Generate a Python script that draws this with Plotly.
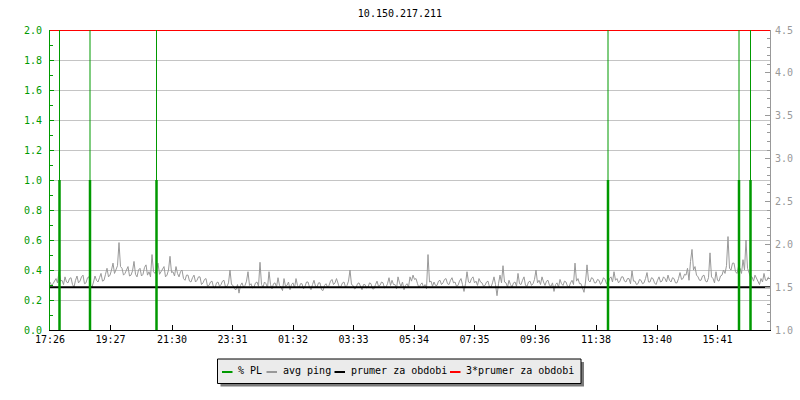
import plotly.graph_objects as go

# ---------------- data ----------------
title_text = "10.150.217.211"
start_label = "17:26"
tick_labels = ["17:26", "19:27", "21:30", "23:31", "01:32", "03:33",
               "05:34", "07:35", "09:36", "11:38", "13:40", "15:41"]
period_min = 1440
sample_step_min = 3

# avg ping [ms], one sample every 3 minutes starting 17:26
ping_ms = [
    # 17:26 - 22:14
    1.56, 1.52, 1.54, 1.58, 1.60, 1.55, 1.68, 1.57, 1.58, 1.53, 1.62, 1.56,
    1.55, 1.60, 1.61, 1.53, 1.50, 1.58, 1.63, 1.55, 1.57, 1.62, 1.64, 1.54,
    1.55, 1.61, 1.62, 1.52, 1.50, 1.56, 1.63, 1.58, 1.56, 1.61, 1.66, 1.57,
    1.58, 1.65, 1.72, 1.62, 1.64, 1.70, 1.78, 1.66, 1.70, 1.75, 2.02, 1.74,
    1.72, 1.64, 1.66, 1.71, 1.74, 1.63, 1.64, 1.69, 1.80, 1.65, 1.62, 1.70,
    1.72, 1.63, 1.65, 1.73, 1.76, 1.64, 1.68, 1.62, 1.88, 1.68, 1.66, 1.71,
    1.78, 1.65, 1.68, 1.72, 1.74, 1.62, 1.64, 1.70, 1.86, 1.67, 1.68, 1.63,
    1.74, 1.66, 1.62, 1.68, 1.70, 1.60, 1.58, 1.64, 1.64, 1.57, 1.56, 1.61,
    # 22:14 - 03:02
    1.64, 1.56, 1.58, 1.62, 1.62, 1.53, 1.55, 1.59, 1.60, 1.51, 1.52, 1.56,
    1.57, 1.50, 1.49, 1.55, 1.56, 1.51, 1.53, 1.57, 1.58, 1.50, 1.51, 1.55,
    1.70, 1.53, 1.52, 1.48, 1.47, 1.53, 1.43, 1.52, 1.55, 1.50, 1.52, 1.57,
    1.68, 1.52, 1.54, 1.49, 1.50, 1.55, 1.56, 1.51, 1.79, 1.53, 1.50, 1.56,
    1.54, 1.49, 1.68, 1.53, 1.48, 1.54, 1.55, 1.50, 1.61, 1.52, 1.50, 1.46,
    1.60, 1.51, 1.52, 1.56, 1.47, 1.53, 1.55, 1.49, 1.60, 1.52, 1.49, 1.54,
    1.54, 1.48, 1.51, 1.56, 1.56, 1.50, 1.47, 1.53, 1.58, 1.51, 1.50, 1.55,
    1.55, 1.47, 1.46, 1.52, 1.54, 1.50, 1.52, 1.57, 1.59, 1.53, 1.55, 1.60,
    # 03:02 - 07:50
    1.53, 1.49, 1.51, 1.55, 1.56, 1.50, 1.52, 1.57, 1.70, 1.53, 1.52, 1.48,
    1.49, 1.54, 1.55, 1.50, 1.47, 1.53, 1.53, 1.49, 1.50, 1.55, 1.54, 1.48,
    1.48, 1.53, 1.57, 1.51, 1.52, 1.56, 1.55, 1.49, 1.50, 1.54, 1.61, 1.52,
    1.58, 1.53, 1.53, 1.48, 1.62, 1.55, 1.51, 1.56, 1.47, 1.52, 1.54, 1.50,
    1.62, 1.57, 1.64, 1.59, 1.60, 1.54, 1.49, 1.53, 1.55, 1.50, 1.53, 1.48,
    1.88, 1.56, 1.57, 1.51, 1.56, 1.52, 1.52, 1.57, 1.58, 1.53, 1.55, 1.59,
    1.60, 1.54, 1.53, 1.58, 1.61, 1.55, 1.56, 1.51, 1.52, 1.57, 1.60, 1.53,
    1.45, 1.54, 1.68, 1.56, 1.55, 1.60, 1.62, 1.55, 1.57, 1.52, 1.60, 1.56,
    # 07:50 - 12:38
    1.55, 1.51, 1.52, 1.56, 1.57, 1.50, 1.50, 1.55, 1.62, 1.53, 1.40, 1.54,
    1.64, 1.55, 1.75, 1.56, 1.55, 1.50, 1.58, 1.53, 1.50, 1.55, 1.56, 1.51,
    1.66, 1.54, 1.53, 1.58, 1.62, 1.52, 1.51, 1.56, 1.57, 1.52, 1.54, 1.59,
    1.70, 1.55, 1.58, 1.53, 1.62, 1.56, 1.52, 1.57, 1.58, 1.52, 1.51, 1.55,
    1.45, 1.53, 1.55, 1.50, 1.59, 1.54, 1.52, 1.57, 1.56, 1.51, 1.50, 1.55,
    1.58, 1.53, 1.78, 1.57, 1.60, 1.54, 1.54, 1.49, 1.44, 1.56, 1.76, 1.58,
    1.56, 1.61, 1.60, 1.55, 1.55, 1.59, 1.58, 1.53, 1.56, 1.61, 1.59, 1.54,
    1.54, 1.60, 1.62, 1.56, 1.68, 1.58, 1.60, 1.55, 1.57, 1.62, 1.62, 1.57,
    # 12:38 - 17:26
    1.56, 1.60, 1.60, 1.54, 1.69, 1.57, 1.57, 1.53, 1.54, 1.59, 1.58, 1.54,
    1.55, 1.60, 1.67, 1.56, 1.56, 1.61, 1.60, 1.55, 1.53, 1.58, 1.62, 1.56,
    1.57, 1.62, 1.60, 1.56, 1.64, 1.58, 1.56, 1.61, 1.60, 1.55, 1.55, 1.60,
    1.67, 1.59, 1.60, 1.65, 1.64, 1.72, 1.58, 1.80, 1.94, 1.70, 1.74, 1.64,
    1.62, 1.58, 1.58, 1.63, 1.64, 1.57, 1.56, 1.61, 1.90, 1.62, 1.60, 1.55,
    1.68, 1.58, 1.57, 1.63, 1.64, 1.70, 1.66, 1.75, 2.09, 1.72, 1.70, 1.78,
    1.78, 1.68, 1.66, 1.74, 1.72, 1.66, 1.82, 1.70, 2.05, 1.72, 1.68, 1.62,
    1.62, 1.57, 1.64, 1.60, 1.57, 1.53, 1.60, 1.56, 1.66, 1.58, 1.58, 1.62,
]

# packet loss events (minutes after 17:26)
pl_times_min = [19, 80, 213, 1116, 1378, 1401]
pl_pct = [1.0, 1.0, 1.0, 1.0, 1.0, 1.0]
pl_event_top = [2.0, 2.0, 2.0, 2.0, 2.0, 2.0]

avg_ms = 1.5          # prumer za obdobi
triple_avg_ms = 4.5   # 3*prumer za obdobi

legend_labels = ["% PL", "avg ping", "prumer za obdobi", "3*prumer za obdobi"]

# ---------------- styling ----------------
GREEN = "#009900"
GREY = "#999999"
GRID = "#c4c4c4"
FONT = "DejaVu Sans Mono"


def to_min(label):
    h, m = map(int, label.split(":"))
    sh, sm = map(int, start_label.split(":"))
    return (h * 60 + m - (sh * 60 + sm)) % period_min


tick_vals = [to_min(s) for s in tick_labels]
ping_t = [i * sample_step_min for i in range(len(ping_ms))]

# vertical impulse helpers
thin_x, thin_y, thick_x, thick_y = [], [], [], []
for t, top, v in zip(pl_times_min, pl_event_top, pl_pct):
    thin_x += [t, t, None]
    thin_y += [0, top, None]
    thick_x += [t, t, None]
    thick_y += [0, v, None]

fig = go.Figure()
fig.add_trace(go.Scatter(x=ping_t, y=ping_ms, mode="lines", name=legend_labels[1],
                         line=dict(color=GREY, width=1), yaxis="y"))
fig.add_trace(go.Scatter(x=[0, period_min], y=[avg_ms, avg_ms], mode="lines",
                         name=legend_labels[2], line=dict(color="black", width=2), yaxis="y"))
fig.add_trace(go.Scatter(x=[0, period_min], y=[triple_avg_ms, triple_avg_ms], mode="lines",
                         name=legend_labels[3], line=dict(color="#ff0000", width=2), yaxis="y"))
fig.add_trace(go.Scatter(x=thin_x, y=thin_y, mode="lines", name=legend_labels[0],
                         line=dict(color=GREEN, width=1), yaxis="y2"))
fig.add_trace(go.Scatter(x=thick_x, y=thick_y, mode="lines", name=legend_labels[0],
                         line=dict(color=GREEN, width=2.5), yaxis="y2"))

L, R, T, B = 50, 30, 30, 70
W, H = 800, 400
PW, PH = W - L - R, H - T - B


def px(xp):
    return (xp - L) / PW


def py(yp):
    return (H - B - yp) / PH


shapes = []
annotations = []
# manual legend box (shadow + box)
bx0, bx1, by0, by1 = 217.5, 581, 359, 383.5
shapes.append(dict(type="rect", xref="paper", yref="paper",
                   x0=px(bx0 + 3), x1=px(bx1 + 3), y0=py(by1 + 3), y1=py(by0 + 3),
                   fillcolor="#7a7a7a", line=dict(width=0)))
shapes.append(dict(type="rect", xref="paper", yref="paper",
                   x0=px(bx0), x1=px(bx1), y0=py(by1), y1=py(by0),
                   fillcolor="#ebebeb", line=dict(color="black", width=1)))
leg_colors = [GREEN, GREY, "black", "#ff0000"]
leg_line_x = [222, 266.5, 334.5, 450]
ly = 372
for lx, col, lab in zip(leg_line_x, leg_colors, legend_labels):
    shapes.append(dict(type="line", xref="paper", yref="paper",
                       x0=px(lx), x1=px(lx + 10.5), y0=py(ly), y1=py(ly),
                       line=dict(color=col, width=2)))
    annotations.append(dict(xref="paper", yref="paper", x=px(lx + 14), y=py(370.5),
                            text=lab, showarrow=False, xanchor="left", yanchor="middle",
                            font=dict(family=FONT, size=10, color="black")))

fig.update_layout(
    width=W, height=H, autosize=False,
    margin=dict(l=L, r=R, t=T, b=B, autoexpand=False),
    paper_bgcolor="white", plot_bgcolor="white",
    showlegend=False,
    title=dict(text=title_text, x=0.5, xanchor="center", y=1 - 13 / H, yanchor="middle",
               yref="container", font=dict(family=FONT, size=10, color="black")),
    xaxis=dict(range=[0, period_min], tickvals=tick_vals, ticktext=tick_labels,
               automargin=False,
               showgrid=False, zeroline=False, showline=True, linecolor="black", linewidth=1,
               ticks="inside", ticklen=5, tickcolor="black",
               tickfont=dict(family=FONT, size=10, color="black")),
    yaxis=dict(range=[1.0, 4.5], side="right", dtick=0.5, tick0=1.0, tickformat=".1f",
               automargin=False,
               showgrid=False, zeroline=False, showline=True, linecolor=GREY, linewidth=1,
               ticks="inside", ticklen=5, tickcolor=GREY,
               minor=dict(dtick=0.1, ticks="inside", ticklen=3, tickcolor=GREY, showgrid=False),
               tickfont=dict(family=FONT, size=10, color=GREY), ticklabelstandoff=2),
    yaxis2=dict(range=[0, 2.0], overlaying="y", side="left", dtick=0.2, tick0=0,
                automargin=False,
                tickformat=".1f", showgrid=True, gridcolor=GRID, gridwidth=1,
                zeroline=False, showline=True, linecolor=GREEN, linewidth=1,
                ticks="inside", ticklen=4, tickcolor=GREEN,
                minor=dict(dtick=0.1, ticks="inside", ticklen=3, tickcolor=GREEN, showgrid=False),
                tickfont=dict(family=FONT, size=10, color=GREEN), ticklabelstandoff=5),
    shapes=shapes,
    annotations=annotations,
)

fig.write_html("out.html", config={"displayModeBar": False},
               post_script="document.body.style.margin='0px';")
